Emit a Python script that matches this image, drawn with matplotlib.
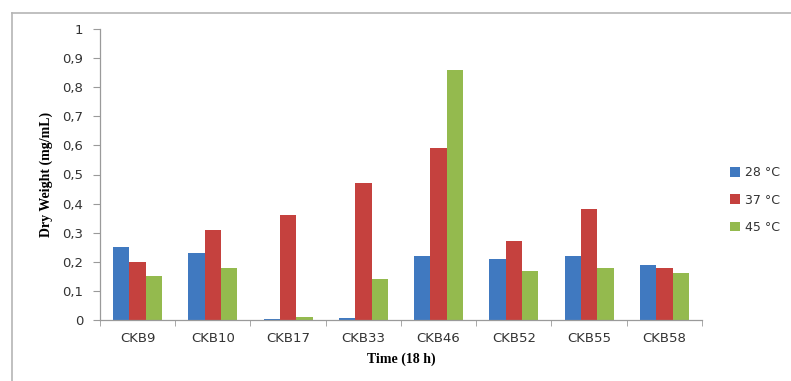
import numpy as np
import matplotlib.pyplot as plt
from matplotlib.lines import Line2D

strains = ["CKB9", "CKB10", "CKB17", "CKB33", "CKB46", "CKB52", "CKB55", "CKB58"]
t28 = [0.25, 0.23, 0.005, 0.008, 0.22, 0.21, 0.22, 0.19]
t37 = [0.20, 0.31, 0.36, 0.47, 0.59, 0.27, 0.38, 0.18]
t45 = [0.15, 0.18, 0.01, 0.14, 0.86, 0.17, 0.18, 0.16]
labels = ["28 °C", "37 °C", "45 °C"]
colors = ["#4079C0", "#C5413E", "#94BA4E"]

plt.rcParams['font.family'] = ['DejaVu Sans']

fig = plt.figure(figsize=(7.91, 3.81), dpi=100)
ax = fig.add_axes([100 / 791, 1 - 320 / 381, 602 / 791, 291 / 381])

# outer chart frame (top and left edges visible)
fig.add_artist(Line2D([12 / 791, 1.0], [1 - 13 / 381, 1 - 13 / 381], color="#b5b5b5", lw=1.2))
fig.add_artist(Line2D([12 / 791, 12 / 791], [0, 1 - 13 / 381], color="#b5b5b5", lw=1.2))

x = np.arange(len(strains))
w = 0.217
for i, vals in enumerate([t28, t37, t45]):
    ax.bar(x + (i - 1) * w, vals, width=w, color=colors[i], label=labels[i])

ax.set_xlim(-0.5, len(strains) - 0.5)
ax.set_ylim(0, 1)
yt = np.round(np.arange(0, 1.01, 0.1), 1)
ax.set_yticks(yt)
ax.set_yticklabels(["0" if v == 0 else ("1" if v == 1 else str(v).replace(".", ",")) for v in yt])
ax.set_xticks(x)
ax.set_xticklabels(strains)
ax.set_xticks(np.arange(-0.5, len(strains), 1), minor=True)

for s in ["top", "right"]:
    ax.spines[s].set_visible(False)
for s in ["left", "bottom"]:
    ax.spines[s].set_color("#9a9a9a")
    ax.spines[s].set_linewidth(0.9)

ax.tick_params(axis="y", length=5, color="#9a9a9a", labelsize=9.5, labelcolor="#333333", pad=7)
ax.tick_params(axis="x", which="major", length=0, labelsize=9.5, labelcolor="#333333", pad=9)
ax.tick_params(axis="x", which="minor", length=4, color="#9a9a9a")

ax.set_ylabel("Dry Weight (mg/mL)", family="Liberation Serif", fontweight="bold", fontsize=10, labelpad=7)
ax.set_xlabel("Time (18 h)", family="Liberation Serif", fontweight="bold", fontsize=10, labelpad=5)

leg = ax.legend(loc="center left", bbox_to_anchor=(1.027, 0.412), frameon=False,
                fontsize=9, handlelength=0.8, handleheight=0.8, handletextpad=0.4,
                labelspacing=1.15)
for t in leg.get_texts():
    t.set_color("#333333")

fig.savefig("out.png", dpi=100)
